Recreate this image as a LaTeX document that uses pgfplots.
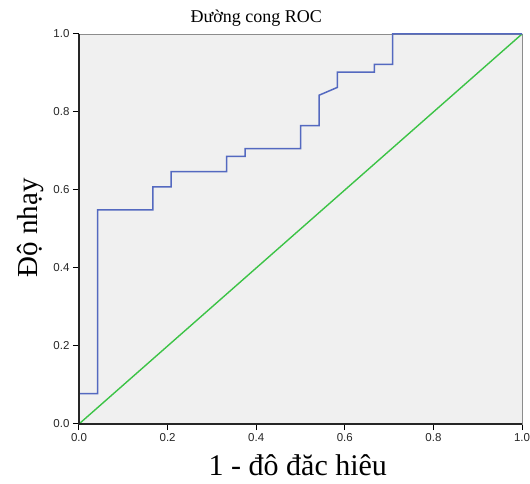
\documentclass[border=0pt]{standalone}
\usepackage{fontspec}
\setmainfont{Liberation Serif}
\setsansfont{Liberation Sans}
\usepackage{pgfplots}
\pgfplotsset{compat=1.18}

\definecolor{rocblue}{RGB}{84,105,192}
\definecolor{rocgreen}{RGB}{60,195,70}
\definecolor{plotbg}{RGB}{240,240,240}

\begin{document}
\begin{tikzpicture}[x=1pt,y=1pt]
\useasboundingbox (-79,-60) rectangle (451,424);
\begin{axis}[
    at={(0,0)}, anchor=south west,
    scale only axis,
    width=443pt, height=390pt,
    xmin=0, xmax=1, ymin=0, ymax=1,
    xtick={0,0.2,...,1.0}, ytick={0,0.2,...,1.0},
    tick align=outside,
    major tick length=6pt,
    tick style={black, line width=1pt},
    xtick pos=bottom, ytick pos=left,
    axis line style={draw=gray!90, line width=0.8pt},
    axis background/.style={fill=plotbg},
    ticklabel style={font=\sffamily\fontsize{11.5}{13}\selectfont, text=black!85},
    /pgf/number format/assume math mode=true,
    /pgf/number format/fixed,
    /pgf/number format/fixed zerofill,
    /pgf/number format/precision=1,
    title={Đường cong ROC},
    title style={font=\fontsize{18}{20}\selectfont, at={(axis description cs:0.4,1)}, anchor=base, yshift=5pt},
    xlabel={1 - đô đăc hiêu},
    xlabel style={font=\fontsize{30}{34}\selectfont, at={(axis description cs:0.494,0)}, anchor=base, yshift=-52pt},
    ylabel={Độ nhạy},
    ylabel style={font=\fontsize{29}{32}\selectfont, at={(axis description cs:-0.0926,0.503)}, anchor=base},
    clip=false,
]
% reference line
\addplot[color=rocgreen, line width=1.4pt] coordinates {(0,0)(1,1)};
% ROC curve
\addplot[color=rocblue, line width=1.5pt] coordinates {
    (0,0)(0,0.078)(0.042,0.078)(0.042,0.549)(0.167,0.549)(0.167,0.608)
    (0.208,0.608)(0.208,0.647)(0.333,0.647)(0.333,0.686)(0.375,0.686)
    (0.375,0.706)(0.5,0.706)(0.5,0.765)(0.542,0.765)(0.542,0.843)
    (0.583,0.863)(0.583,0.902)(0.667,0.902)(0.667,0.922)(0.708,0.922)
    (0.708,1)(1,1)};
\draw[black!85, line width=2pt] (rel axis cs:0,1) -- (rel axis cs:0,0) -- (rel axis cs:1,0);
\end{axis}
\end{tikzpicture}
\end{document}
